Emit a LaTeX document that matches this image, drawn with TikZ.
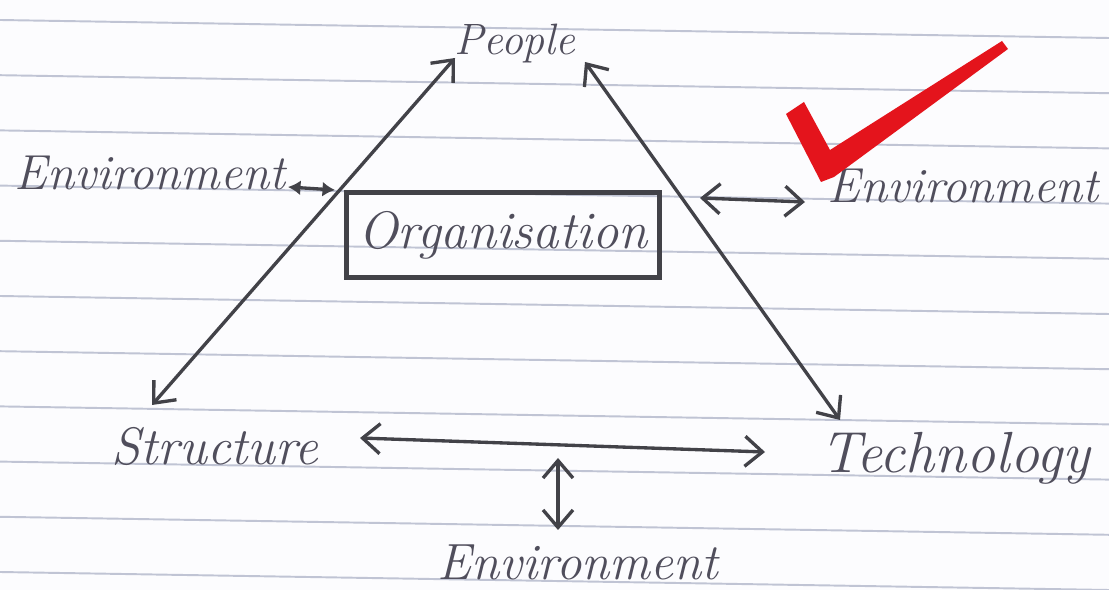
\documentclass[tikz,border=0pt]{standalone}
\usetikzlibrary{arrows.meta}
\definecolor{ink}{RGB}{66,66,72}
\definecolor{pen}{RGB}{80,78,92}
\definecolor{rule}{RGB}{192,196,212}
\definecolor{paper}{RGB}{252,252,254}
\definecolor{tick}{RGB}{228,20,28}
\begin{document}
\begin{tikzpicture}[
  x=0.02cm, y=-0.02cm,
  word/.style={font=\fontsize{28}{30}\selectfont\itshape, text=pen, inner sep=0pt, anchor=base},
  link/.style={draw=ink, line width=1.9pt, {Straight Barb[length=3.5mm,width=6mm]}-{Straight Barb[length=3.5mm,width=6mm]}},
  short/.style={draw=ink, line width=1.9pt, {Latex[length=2.5mm,width=3mm]}-{Latex[length=2.5mm,width=3mm]}},
  orgbox/.style={draw=ink, line width=2.6pt, minimum width=6.26cm, minimum height=1.7cm, inner sep=0pt,
    font=\fontsize{30}{32}\selectfont\itshape, text=pen}
]
\useasboundingbox[fill=paper] (0,0) rectangle (1109,590);
\foreach \k in {0,...,10} {
  \draw[rule, line width=1.1pt] (0,20+55.2*\k) -- (1109,38+55.2*\k);
}
\node[word, font=\fontsize{25}{28}\selectfont\itshape] (people) at (515,55) {People};
\node[word] (envL) at (150,190) {Environment};
\node[word] (envR) at (963,203) {Environment};
\node[orgbox] (org) at (503,235) {Organisation};
\node[word, font=\fontsize{30}{32}\selectfont\itshape] (structure) at (215,465) {Structure};
\node[word, font=\fontsize{33}{36}\selectfont\itshape] (technology) at (955,473) {Technology};
\node[word, font=\fontsize{29}{32}\selectfont\itshape] (envB) at (578,580) {Environment};
\coordinate (midL) at (335,190);
\coordinate (midR) at (700,198);
\coordinate (midB) at (558,458);
\draw[link] ([shift={(-63,-60)}]structure.base) -- ([shift={(-60,3)}]people.base);
\draw[link] ([shift={(70,7)}]people.base) -- ([shift={(-115,-53)}]technology.base);
\draw[link] ([shift={(145,-27)}]structure.base) -- ([shift={(-190,-21)}]technology.base);
\draw[link] (midB) -- ([shift={(-20,-50)}]envB.base);
\draw[short] ([shift={(138,-3)}]envL.base) -- (midL);
\draw[link] (midR) -- ([shift={(-158,-1)}]envR.base);
\fill[tick] (786,114) -- (804,102) -- (830,150) -- (1002,41) -- (1008,49) -- (834,177) -- (821,182) -- cycle;
\end{tikzpicture}
\end{document}
